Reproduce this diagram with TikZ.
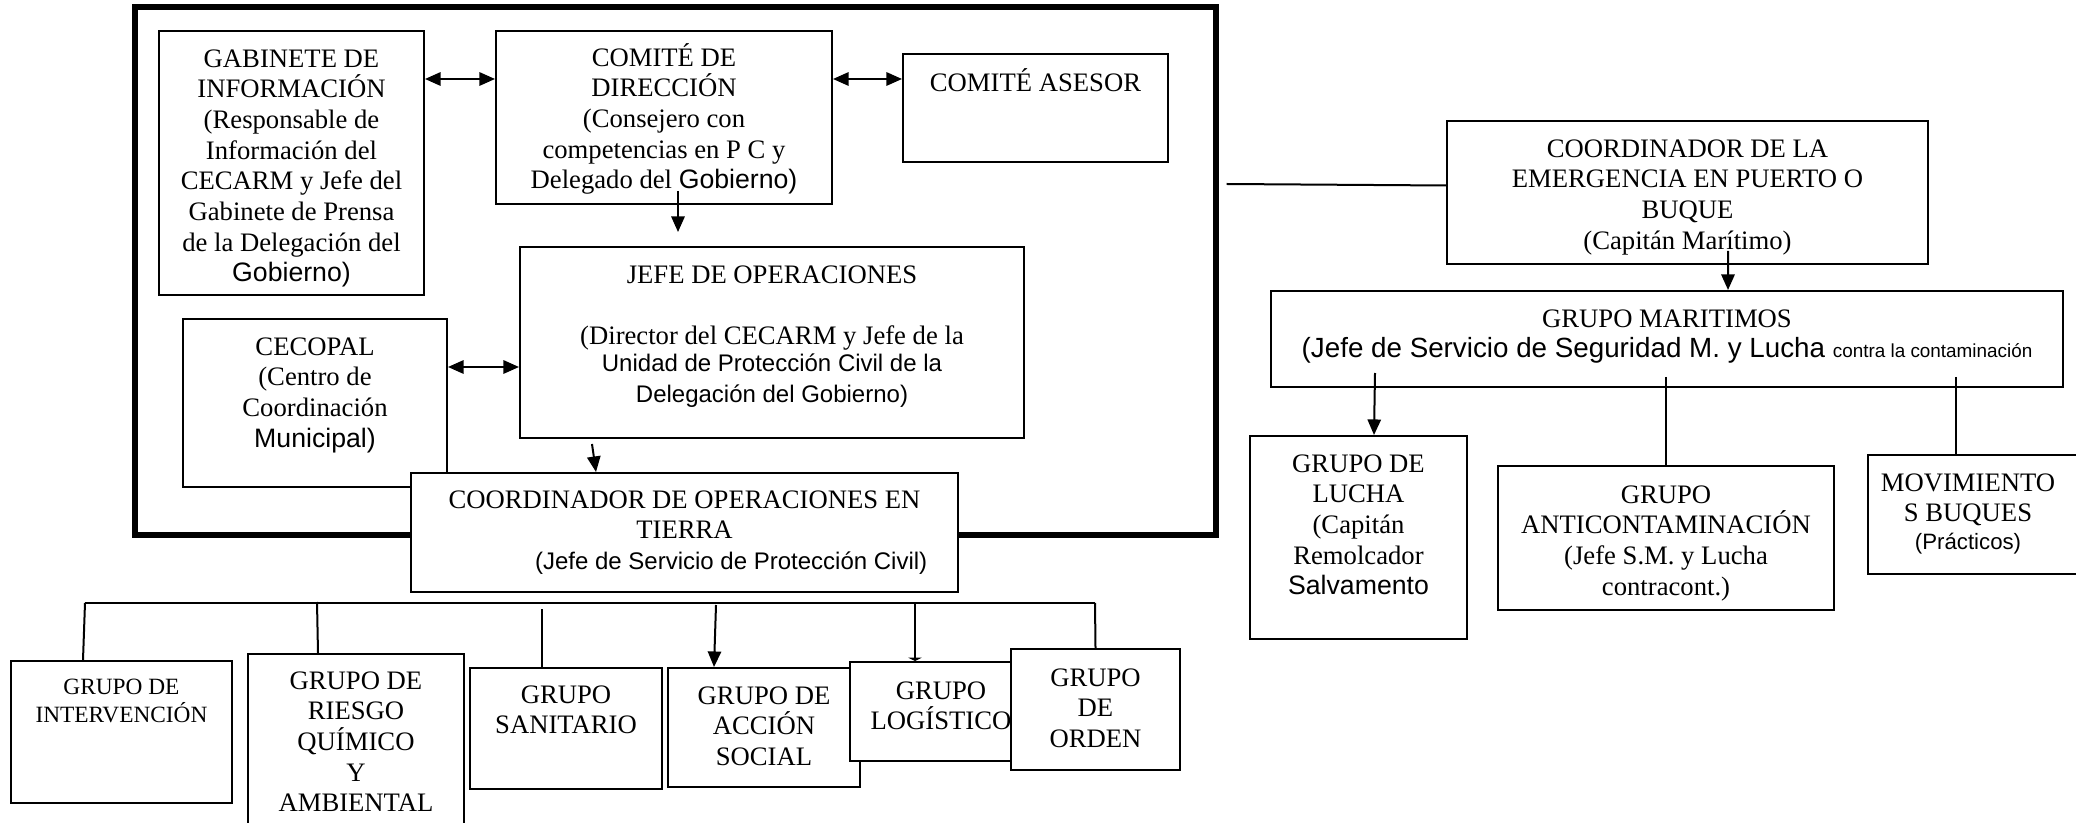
\documentclass[tikz,border=0pt]{standalone}
\usepackage{fontspec}
\setmainfont{Liberation Serif}
\setsansfont{Liberation Sans}
\usetikzlibrary{arrows.meta,calc}
\tikzset{
  box/.style={draw, line width=0.9pt, fill=white, inner sep=0pt},
  wh/.style 2 args={minimum width=#1*0.45pt, minimum height=#2*0.45pt},
  marco/.style={draw, line width=2.3pt, inner sep=0pt},
  lbl/.style={align=center, inner sep=0pt, anchor=north, font=\fontsize{12}{13.8}\selectfont},
  conn/.style={line width=0.9pt},
  arr/.style={conn, -{Triangle[length=7pt,width=6pt]}},
  dblarr/.style={conn, {Triangle[length=7pt,width=6pt]}-{Triangle[length=7pt,width=6pt]}},
}
\newcommand{\sfsm}{\sffamily\fontsize{10.8}{13.8}\selectfont}

\begin{document}
\begin{tikzpicture}[x=0.45pt, y=-0.45pt]
  \useasboundingbox (0,0) rectangle (2076,823);
  % recuadro grande (direccion)
  \node[marco, wh={1081}{528}] (cecop) at (675.5,271) {};
  \node[box, wh={265}{264}] (gab) at (291.5,163) {};
  \node[lbl] (gab-t) at (291.5,49) {GABINETE DE\\INFORMACIÓN\\(Responsable de\\Información del\\CECARM y Jefe del\\Gabinete de Prensa\\de la Delegación del\\{\sffamily Gobierno)}};
  \node[box, wh={336}{173}] (cdir) at (664,117.5) {};
  \node[lbl] (cdir-t) at (664,43) {COMITÉ DE\\DIRECCIÓN\\(Consejero con\\competencias en P C y\\Delegado del {\sffamily Gobierno)}};
  \node[box, wh={265}{108}] (ases) at (1035.5,108) {};
  \node[lbl] (ases-t) at (1035.5,68) {COMITÉ ASESOR};
  \node[box, wh={504}{191}] (jefe) at (772,342.5) {};
  \node[lbl] (jefe-t) at (772,265) {JEFE DE OPERACIONES\\[13.8pt](Director del CECARM y Jefe de la\\[-1.5pt]{\sfsm Unidad de Protección Civil de la}\\{\sfsm Delegación del Gobierno)}};
  \node[box, wh={264}{168}] (cecopal) at (315,403) {};
  \node[lbl] (cecopal-t) at (315,337) {CECOPAL\\(Centro de\\Coordinación\\{\sffamily Municipal)}};
  \node[box, wh={547}{119}] (coordop) at (684.5,532.5) {};
  \node[lbl] (coordop-t) at (684.5,490) {COORDINADOR DE OPERACIONES EN\\TIERRA\\\hspace*{42pt}{\sfsm (Jefe de Servicio de Protección Civil)}};

  % grupos de tierra
  \node[box, wh={221}{142}] (interv) at (121.5,732) {};
  \node[lbl, font=\fontsize{10.5}{12.5}\selectfont] (interv-t) at (121.5,679) {GRUPO DE\\INTERVENCIÓN};
  \node[box, wh={216}{186}] (riesgo) at (356,747) {};
  \node[lbl] (riesgo-t) at (356,671) {GRUPO DE\\RIESGO\\QUÍMICO\\Y\\AMBIENTAL};
  \node[box, wh={192}{121}] (sanit) at (566,728.5) {};
  \node[lbl] (sanit-t) at (566,685) {GRUPO\\SANITARIO};
  \node[box, wh={192}{119}] (accion) at (764,727.5) {};
  \node[lbl] (accion-t) at (764,686) {GRUPO DE\\ACCIÓN\\SOCIAL};
  \node[box, wh={182}{99}] (logi) at (941,711.5) {};
  \node[lbl] (logi-t) at (941,681) {GRUPO\\LOGÍSTICO};
  \node[box, wh={169}{121}] (orden) at (1095.5,709.5) {};
  \node[lbl] (orden-t) at (1095.5,668) {GRUPO\\DE\\ORDEN};

  % puerto o buque
  \node[box, wh={481}{143}] (emerg) at (1687.5,192.5) {};
  \node[lbl] (emerg-t) at (1687.5,139) {COORDINADOR DE LA\\EMERGENCIA EN PUERTO O\\BUQUE\\(Capitán Marítimo)};
  \node[box, wh={792}{96}] (mar) at (1667,339) {};
  \node[lbl] (mar-t) at (1667,309) {GRUPO MARITIMOS\\{\sffamily\fontsize{12.5}{13.8}\selectfont (Jefe de Servicio de Seguridad M. y Lucha {\fontsize{8.5}{10}\selectfont contra la contaminación}}};
  \node[box, wh={217}{203}] (lucha) at (1358.5,537.5) {};
  \node[lbl] (lucha-t) at (1358.5,454) {GRUPO DE\\LUCHA\\(Capitán\\Remolcador\\{\sffamily Salvamento}};
  \node[box, wh={336}{144}] (anti) at (1666,538) {};
  \node[lbl] (anti-t) at (1666,485) {GRUPO\\ANTICONTAMINACIÓN\\(Jefe S.M. y Lucha\\contracont.)};
  \node[box, wh={222}{119}] (mov) at (1979,514.5) {};
  \node[lbl] (mov-t) at (1968,473) {MOVIMIENTO\\S BUQUES\\[-1.5pt]{\sffamily\fontsize{10}{11}\selectfont (Prácticos)}};

  % flechas de la direccion
  \draw[dblarr] (gab.east |- 0,79) -- (cdir.west |- 0,79);
  \draw[dblarr] (cdir.east |- 0,79) -- (ases.west |- 0,79);
  \draw[arr] ($(cdir.south)+(14,-14)$) -- ($(jefe.north)+(-94,-14)$);
  \draw[dblarr] (cecopal.east |- 0,367) -- (jefe.west |- 0,367);
  \draw[arr] ($(jefe.south)+(-180,5)$) -- ($(coordop.north)+(-88.5,0)$);
  % reparto a los grupos de tierra
  \coordinate (bus-a) at (85,603);
  \coordinate (bus-b) at (1095,603);
  \draw[conn] (bus-a) -- (bus-b);
  \draw[conn] (bus-a) -- ($(interv.north)+(-38.5,0)$);
  \draw[conn] ($(riesgo.north)+(-39,-51)$) -- ($(riesgo.north)+(-38,0)$);
  \draw[conn] ($(sanit.north)+(-24,-58)$) -- ($(sanit.north)+(-24,0)$);
  \draw[arr] ($(accion.north)+(-48,-62)$) -- ($(accion.north)+(-50,0)$);
  \draw[conn, -{Triangle[length=1.5pt,width=6pt]}] ($(logi.north)+(-26,-59)$) -- ($(logi.north)+(-26,0)$);
  \draw[conn] (bus-b) -- (orden.north);
  % puerto o buque
  \draw[conn] ($(cecop.east)+(8,-87)$) -- ($(emerg.west)+(0,-7)$);
  \draw[arr] ($(emerg.south)+(40.5,-14)$) -- ($(mar.north)+(61,0)$);
  \draw[arr] ($(mar.south)+(-292,-15)$) -- ($(lucha.north)+(15.5,0)$);
  \draw[conn] ($(mar.south)+(-1,-11)$) -- (anti.north);
  \draw[conn] ($(mar.south)+(289,-11)$) -- ($(mov.north)+(-23,0)$);
\end{tikzpicture}
\end{document}
